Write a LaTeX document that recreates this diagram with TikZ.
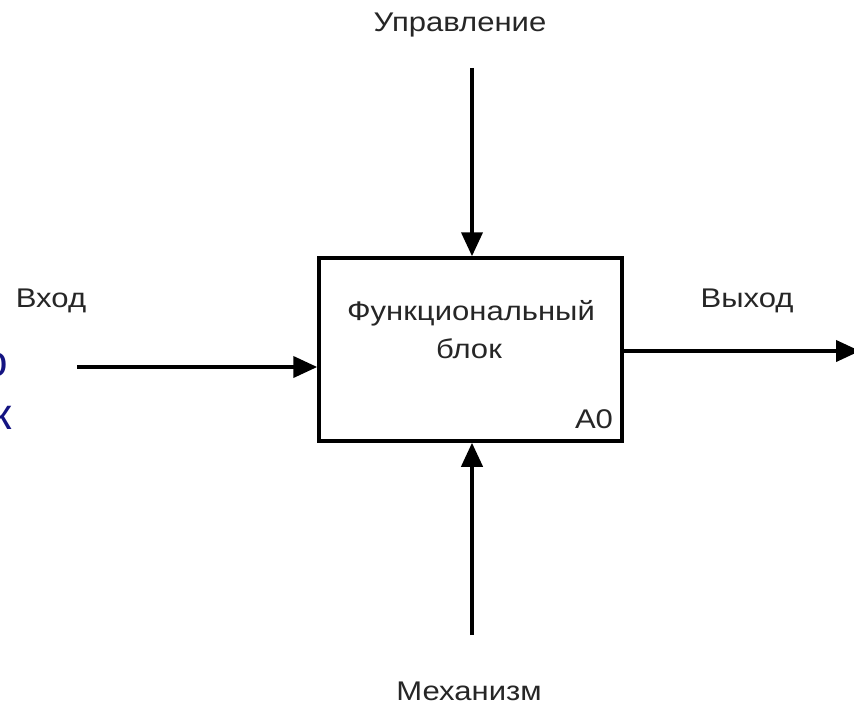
\documentclass[tikz,border=0pt]{standalone}
\usepackage{fontspec}
\usepackage{graphicx}
\setmainfont{Liberation Sans}
\usetikzlibrary{arrows.meta}
\definecolor{slideblue}{RGB}{20,20,130}
\newcommand\wtxt[1]{\scalebox{1.15}[1]{#1}}
\begin{document}
\begin{tikzpicture}[x=1pt,y=-1pt,
  lbl/.style={inner sep=0pt,font=\fontsize{27}{30}\selectfont,text=black!85},
  arr/.style={line width=4pt,-{Triangle[length=24pt,width=21pt]}},
  fblock/.style={draw,line width=3.5pt,minimum width=303pt,minimum height=183pt,inner sep=0pt}]
\useasboundingbox (0,0) rectangle (854,709);
\fill[white] (0,0) rectangle (854,709);
% clipped slide text at left edge
\node[anchor=east,inner sep=0pt,text=slideblue,font=\fontsize{44}{48}\selectfont] (bo) at (8,365) {о};
\node[anchor=east,inner sep=0pt,text=slideblue,font=\fontsize{44}{48}\selectfont] (bk) at (12,418) {к};
% block
\node[fblock] (blk) at (470.5,349.5) {};
\node[lbl] (btxt1) at (471,313) {\wtxt{Функциональный}};
\node[lbl] (btxt2) at (469,349) {\wtxt{блок}};
\node[lbl] (a0) at (594,419) {\wtxt{А0}};
% anchor coordinates
\coordinate (ctop) at (472,68);
\coordinate (cbot) at (472,635);
\coordinate (cin) at (77,367);
\coordinate (cout) at (860,351);
\draw[arr] (ctop) -- (ctop |- blk.north);
\draw[arr] (cbot) -- (cbot |- blk.south);
\draw[arr] (cin) -- (cin -| blk.west);
\draw[arr] (blk.east |- cout) -- (cout);
% labels
\node[lbl] (lctl) at (460,25) {\wtxt{Управление}};
\node[lbl] (lin) at (51,301) {\wtxt{Вход}};
\node[lbl] (lout) at (747,301) {\wtxt{Выход}};
\node[lbl] (lmech) at (469,691) {\wtxt{Механизм}};
\end{tikzpicture}
\end{document}
